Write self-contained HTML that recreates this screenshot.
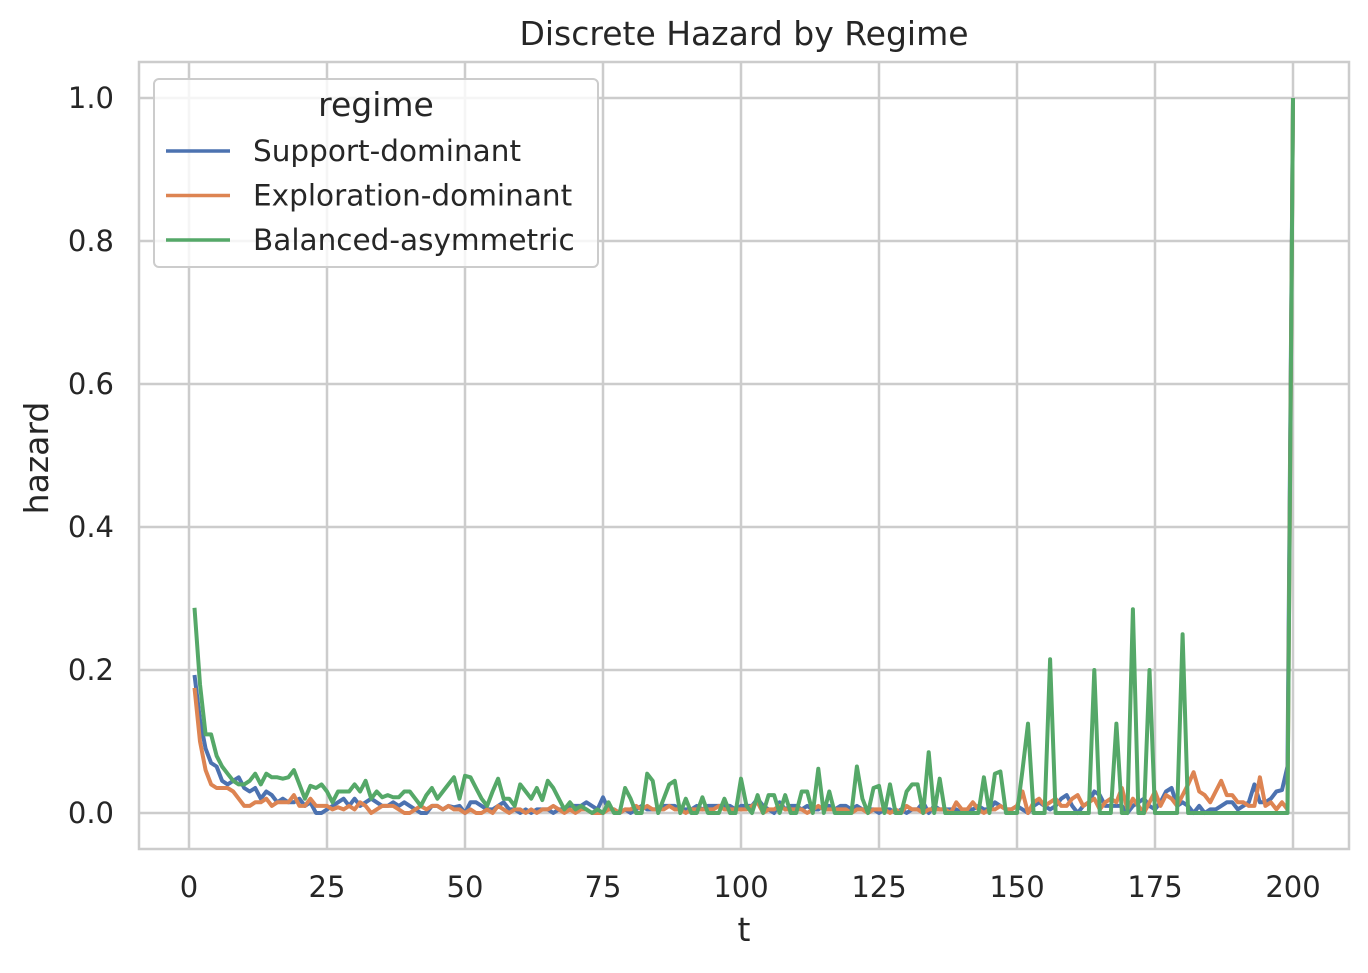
<!DOCTYPE html>
<html><head><meta charset="utf-8"><style>
body{margin:0;background:#fff;font-family:"Liberation Sans","DejaVu Sans",sans-serif;}
</style></head><body>
<svg id="chart" width="1368" height="968" xmlns="http://www.w3.org/2000/svg" font-family="DejaVu Sans, Liberation Sans, sans-serif"></svg>
<script>
const tickX=[0,25,50,75,100,125,150,175,200];
const tickY=[0,0.2,0.4,0.6,0.8,1.0];
const tickYLabels=["0.0","0.2","0.4","0.6","0.8","1.0"];
const seriesNames=["Support-dominant","Exploration-dominant","Balanced-asymmetric"];
const support=[.193,.13,.09,.07,.065,.045,.04,.045,.05,.035,
.03,.035,.02,.03,.025,.015,.02,.015,.015,.02,
.01,.015,.0,.0,.005,.01,.015,.02,.01,.02,
.01,.015,.02,.015,.01,.01,.015,.01,.015,.01,
.005,.0,.0,.01,.01,.005,.01,.008,.01,.0,
.015,.015,.01,.005,.005,.01,.015,.005,.005,.0,
.005,.0,.005,.005,.005,.0,.005,.005,.01,.01,
.01,.015,.01,.005,.022,.005,.005,.0,.005,.0,
.005,.01,.005,.005,.005,.01,.01,.01,.005,.005,
.005,.01,.005,.01,.01,.01,.01,.01,.005,.01,
.01,.01,.02,.01,.005,.0,.015,.005,.01,.01,
.005,.01,.005,.005,.01,.01,.005,.01,.01,.005,
.01,.005,.005,.005,.0,.005,.005,.0,.005,.0,
.005,.005,.015,.0,.01,.005,.005,.005,.005,.0,
.005,.005,.01,.005,.005,.015,.01,.005,.005,.01,
.005,.0,.01,.015,.01,.005,.01,.02,.025,.01,
.0,.01,.015,.03,.025,.01,.01,.01,.01,.0,
.01,.015,.02,.01,.005,.015,.03,.035,.01,.015,
.01,.0,.01,.0,.005,.005,.01,.015,.015,.005,
.01,.015,.04,.015,.015,.02,.03,.032,.065,1.0];
const exploration=[.175,.1,.06,.04,.035,.035,.035,.03,.02,.01,
.01,.015,.015,.02,.01,.015,.015,.015,.025,.01,
.01,.02,.01,.01,.01,.005,.008,.005,.01,.005,
.015,.01,.0,.005,.01,.01,.01,.005,.0,.0,
.005,.01,.005,.01,.01,.005,.01,.005,.005,.0,
.005,.0,.0,.005,.0,.01,.005,.0,.005,.005,
.0,.005,.0,.005,.005,.01,.005,.0,.005,.0,
.005,.005,.0,.0,.0,.005,.005,.0,.005,.005,
.01,.005,.01,.005,.005,.005,.01,.005,.005,.0,
.005,.005,.005,.005,.005,.01,.005,.005,.005,.005,
.005,.01,.015,.0,.005,.005,.01,.005,.005,.005,
.005,.0,.005,.01,.005,.005,.005,.005,.005,.0,
.005,.005,.0,.005,.005,.005,.0,.005,.0,.01,
.005,.005,.0,.005,.005,.005,.005,.0,.015,.005,
.005,.015,.005,.0,.005,.005,.01,.005,.005,.01,
.03,.0,.015,.02,.01,.015,.02,.01,.01,.02,
.025,.01,.015,.02,.005,.015,.02,.015,.035,.005,
.02,.01,.0,.015,.03,.01,.025,.02,.01,.025,
.04,.057,.03,.025,.015,.03,.045,.025,.025,.015,
.015,.01,.01,.05,.01,.015,.005,.015,.005,1.0];
const balanced=[.287,.18,.11,.11,.08,.065,.055,.045,.04,.04,
.045,.055,.04,.055,.05,.05,.048,.05,.06,.04,
.02,.038,.035,.04,.03,.015,.03,.03,.03,.04,
.03,.045,.02,.03,.022,.025,.022,.022,.03,.03,
.02,.01,.025,.035,.02,.03,.04,.05,.02,.052,
.05,.035,.02,.01,.03,.048,.02,.02,.01,.04,
.03,.02,.035,.018,.045,.035,.02,.005,.015,.005,
.01,.005,.0,.005,.0,.015,.0,.0,.035,.02,
.0,.0,.055,.045,.0,.02,.04,.045,.0,.02,
.0,.0,.022,.0,.0,.0,.02,.0,.0,.048,
.01,.0,.025,.0,.025,.025,.0,.025,.0,.0,
.03,.03,.0,.062,.0,.03,.0,.0,.0,.0,
.065,.02,.0,.035,.038,.0,.04,.0,.0,.03,
.04,.04,.0,.085,.0,.048,.0,.0,.0,.0,
.0,.0,.0,.05,.0,.055,.058,.0,.0,.0,
.06,.125,.0,.0,.0,.215,.0,.0,.0,.0,
.0,.0,.0,.2,.0,.0,.0,.125,.0,.0,
.285,.0,.0,.2,.0,.0,.0,.0,.0,.25,
.0,.0,.0,.0,.0,.0,.0,.0,.0,.0,
.0,.0,.0,.0,.0,.0,.0,.0,.0,1.0];
const colors=["#4c72b0","#dd8452","#55a868"];
const L=139,R=1349,T=62,B=849;
const xs=t=>189+t*(1293-189)/200;
const ys=v=>813-v*(813-98);
const svg=document.getElementById('chart');
const NS="http://www.w3.org/2000/svg";
function mk(tag,attrs,parent){const e=document.createElementNS(NS,tag);for(const k in attrs)e.setAttribute(k,attrs[k]);(parent||svg).appendChild(e);return e;}
const frame=mk('rect',{x:L,y:T,width:R-L,height:B-T,fill:'#fff',stroke:'#ccc','stroke-width':2.5});


tickX.forEach(t=>{
 const g=mk('line',{x1:xs(t),x2:xs(t),y1:T,y2:B,stroke:'#ccc','stroke-width':2.5});
 
 
 const tx=mk('text',{x:xs(t),y:897,'text-anchor':'middle','font-size':29,fill:'#262626'});
 tx.textContent=t;
 
 
});
tickY.forEach((v,i)=>{
 const g=mk('line',{x1:L,x2:R,y1:ys(v),y2:ys(v),stroke:'#ccc','stroke-width':2.5});
 
 
 const tx=mk('text',{x:114,y:ys(v)+10,'text-anchor':'end','font-size':29,fill:'#262626'});
 tx.textContent=tickYLabels[i];
 
 
});
[support,exploration,balanced].forEach((arr,si)=>{
 const d=arr.map((v,i)=>(i?'L':'M')+xs(i+1).toFixed(1)+' '+ys(v).toFixed(1)).join(' ');
 const p=mk('path',{d:d,fill:'none',stroke:colors[si],'stroke-width':4,'stroke-linejoin':'round'});
 
 
});
const title=mk('text',{x:744,y:45,'text-anchor':'middle','font-size':33,fill:'#262626'});
title.textContent='Discrete Hazard by Regime';


const xl=mk('text',{x:744,y:941,'text-anchor':'middle','font-size':33,fill:'#262626'});
xl.textContent='t';


const yl=mk('text',{x:48,y:458,'text-anchor':'middle','font-size':33,fill:'#262626',transform:'rotate(-90 48 458)'});
yl.textContent='hazard';


const lg=mk('g',{});


mk('rect',{x:154,y:79,width:444,height:188,rx:5,fill:'#fff','fill-opacity':0.8,stroke:'#ccc','stroke-width':2},lg);
const lt=mk('text',{x:376,y:116,'text-anchor':'middle','font-size':33,fill:'#262626'},lg);
lt.textContent='regime';


seriesNames.forEach((n,i)=>{
 const y=151+i*44.5;
 const e=mk('g',{},lg);
 
 
 mk('line',{x1:166,x2:230,y1:y,y2:y,stroke:colors[i],'stroke-width':3.5},e);
 const t=mk('text',{x:253,y:y+10,'font-size':29.5,fill:'#262626'},e);
 t.textContent=n;
});
</script>
</body></html>
